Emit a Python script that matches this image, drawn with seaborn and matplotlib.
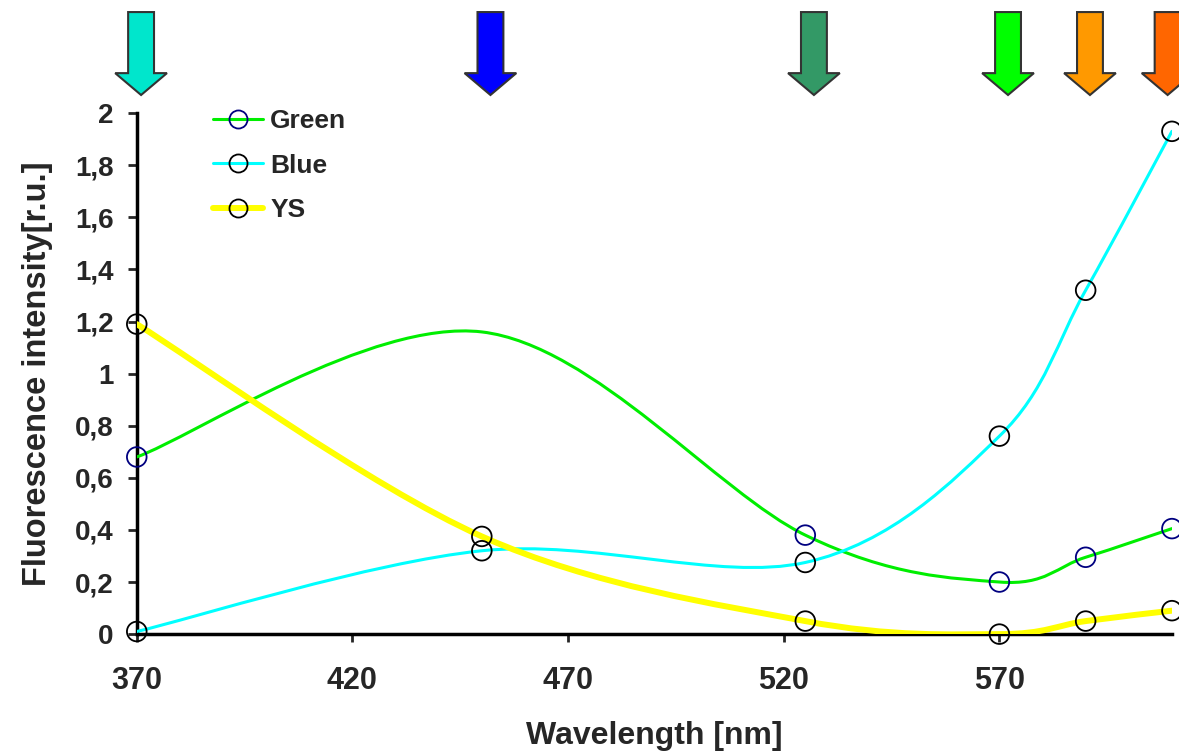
import matplotlib
matplotlib.use("Agg")
import matplotlib.pyplot as plt
import matplotlib.transforms as mtransforms
from matplotlib.path import Path
from matplotlib.patches import PathPatch, FancyArrow
from matplotlib.lines import Line2D
import seaborn as sns

# --- data ---
wavelength = [370, 450, 525, 570, 590, 610]
green = [0.68, 1.16, 0.38, 0.20, 0.295, 0.405]
blue = [0.01, 0.32, 0.275, 0.76, 1.32, 1.93]
ys = [1.19, 0.375, 0.05, 0.0, 0.05, 0.09]
green_marked = [True, False, True, True, True, True]  # no marker on green at 450

arrow_wl = [371, 452, 527, 572, 591, 609]
arrow_colors = ["#00E6CC", "#0000FF", "#339966", "#00FF00", "#FF9900", "#FF6600"]

y_ticks = [0, 0.2, 0.4, 0.6, 0.8, 1, 1.2, 1.4, 1.6, 1.8, 2]
y_tick_labels = ["0", "0,2", "0,4", "0,6", "0,8", "1", "1,2", "1,4", "1,6", "1,8", "2"]
x_ticks = [370, 420, 470, 520, 570]


def smooth_path(x, y):
    # Excel-like smoothed line: cubic Bezier segments (Catmull-Rom tangents)
    pts = list(zip(x, y))
    n = len(pts)
    verts = [pts[0]]
    codes = [Path.MOVETO]
    for i in range(n - 1):
        p0 = pts[i - 1] if i > 0 else pts[i]
        p1 = pts[i]
        p2 = pts[i + 1]
        p3 = pts[i + 2] if i + 2 < n else pts[i + 1]
        c1 = (p1[0] + (p2[0] - p0[0]) / 6, p1[1] + (p2[1] - p0[1]) / 6)
        c2 = (p2[0] - (p3[0] - p1[0]) / 6, p2[1] - (p3[1] - p1[1]) / 6)
        verts += [c1, c2, p2]
        codes += [Path.CURVE4] * 3
    return Path(verts, codes)


sns.set_style("white")
plt.rcParams["font.family"] = ["Liberation Sans", "DejaVu Sans"]

fig = plt.figure(figsize=(11.79, 7.54), dpi=100)
ax = fig.add_axes([0.116, 0.159, 0.878, 0.691])

series = [
    ("Green", green, "#00EE00", "#000080", 2.2),
    ("Blue", blue, "#00FFFF", "black", 2.2),
    ("YS", ys, "#FFFF00", "black", 4.3),
]

handles = []
for name, vals, lc, mc, lw in series:
    ax.add_patch(PathPatch(smooth_path(wavelength, vals), fill=False,
                           edgecolor=lc, lw=lw, zorder=3, capstyle="round"))
    if name == "Green":
        mx = [w for w, m in zip(wavelength, green_marked) if m]
        my = [v for v, m in zip(vals, green_marked) if m]
    else:
        mx, my = wavelength, vals
    sns.scatterplot(x=mx, y=my, ax=ax, marker="o", s=200, color="none",
                    edgecolor=mc, linewidth=1.3, zorder=5, clip_on=False)
    handles.append(Line2D([], [], color=lc, lw=lw, marker="o", markersize=13,
                          markerfacecolor="none", markeredgecolor=mc,
                          markeredgewidth=1.3))

ax.set_xlim(370, 610)
ax.set_ylim(0, 2)

ax.set_yticks(y_ticks)
ax.set_yticklabels(y_tick_labels, fontsize=20, fontweight="bold")
ax.set_xticks(x_ticks)
ax.set_xticklabels([str(v) for v in x_ticks], fontsize=22, fontweight="bold")
ax.tick_params(axis="y", direction="out", length=6.5, width=2, pad=10, left=True)
ax.tick_params(axis="x", direction="out", length=6, width=2, pad=17, bottom=True)

for side in ["top", "right"]:
    ax.spines[side].set_visible(False)
for side in ["left", "bottom"]:
    ax.spines[side].set_linewidth(2.5)
    ax.spines[side].set_color("black")

ax.set_xlabel("Wavelength [nm]", fontsize=23, fontweight="bold", labelpad=18)
ax.set_ylabel("Fluorescence intensity[r.u.]", fontsize=23.5, fontweight="bold",
              labelpad=16)

ax.legend(handles, ["Green", "Blue", "YS"], loc="upper left",
          bbox_to_anchor=(0.0736, 1.008), borderaxespad=0, borderpad=0,
          frameon=False, handlelength=1.9, handletextpad=0.27,
          labelspacing=0.78, prop={"size": 19, "weight": "bold"})

# excitation arrows above the plot
trans = mtransforms.blended_transform_factory(ax.transData, fig.transFigure)
for wl, col in zip(arrow_wl, arrow_colors):
    arr = FancyArrow(wl, 0.984, 0, -0.11, width=6.0, head_width=12.0,
                     head_length=0.029, length_includes_head=True,
                     transform=trans, facecolor=col, edgecolor="#333333",
                     lw=1.5, clip_on=False)
    fig.patches.append(arr)

fig.savefig("out.png", dpi=100)
